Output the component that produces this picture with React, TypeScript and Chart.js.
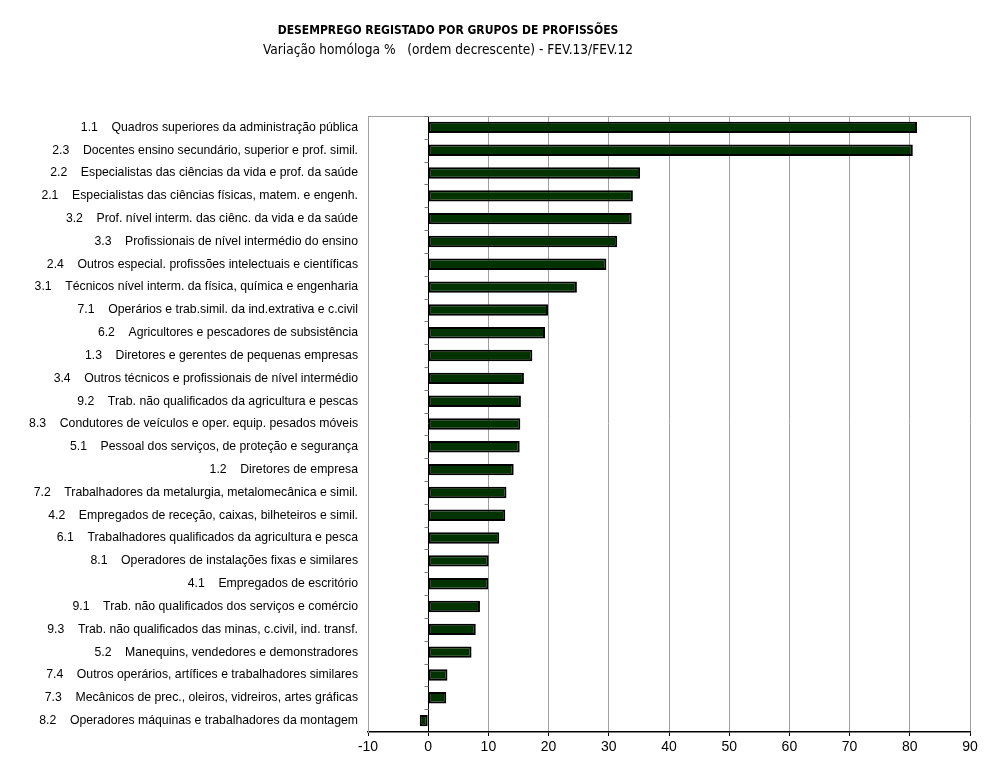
import { useEffect, useRef } from 'react';
import { Chart, registerables } from 'chart.js';

Chart.register(...registerables);

const codes = [
	'1.1', '2.3', '2.2', '2.1', '3.2', '3.3', '2.4', '3.1', '7.1', '6.2', '1.3', '3.4', '9.2', '8.3',
	'5.1', '1.2', '7.2', '4.2', '6.1', '8.1', '4.1', '9.1', '9.3', '5.2', '7.4', '7.3', '8.2',
];

const groups = [
	'Quadros superiores da administração pública',
	'Docentes ensino secundário, superior e prof. simil.',
	'Especialistas das ciências da vida e prof. da saúde',
	'Especialistas das ciências físicas, matem. e engenh.',
	'Prof. nível interm. das ciênc. da vida e da saúde',
	'Profissionais de nível intermédio do ensino',
	'Outros especial. profissões intelectuais e científicas',
	'Técnicos nível interm. da física, química e engenharia',
	'Operários e trab.simil. da ind.extrativa e c.civil',
	'Agricultores e pescadores de subsistência',
	'Diretores e gerentes de pequenas empresas',
	'Outros técnicos e profissionais de nível intermédio',
	'Trab. não qualificados da agricultura e pescas',
	'Condutores de veículos e oper. equip. pesados móveis',
	'Pessoal dos serviços, de proteção e segurança',
	'Diretores de empresa',
	'Trabalhadores da metalurgia, metalomecânica e simil.',
	'Empregados de receção, caixas, bilheteiros e simil.',
	'Trabalhadores qualificados da agricultura e pesca',
	'Operadores de instalações fixas e similares',
	'Empregados de escritório',
	'Trab. não qualificados dos serviços e comércio',
	'Trab. não qualificados das minas, c.civil, ind. transf.',
	'Manequins, vendedores e demonstradores',
	'Outros operários, artífices e trabalhadores similares',
	'Mecânicos de prec., oleiros, vidreiros, artes gráficas',
	'Operadores máquinas e trabalhadores da montagem',
];

// variação homóloga % FEV.13/FEV.12
const variation = [
	81.2, 80.5, 35.2, 34.0, 33.8, 31.4, 29.6, 24.7, 19.9, 19.4, 17.3, 15.9, 15.4, 15.3,
	15.2, 14.2, 13.0, 12.8, 11.8, 10.05, 10.0, 8.6, 7.9, 7.2, 3.2, 3.0, -1.4,
];

const title = 'DESEMPREGO REGISTADO POR GRUPOS DE PROFISSÕES';
const subtitle = 'Variação homóloga %   (ordem decrescente) - FEV.13/FEV.12';

const labels = codes.map((c, i) => `${c}    ${groups[i]}`);

// frame around plot area, ticks on zero line, titles
const decorPlugin = {
	id: 'decor',
	beforeDatasetsDraw(chart: any) {
		const { ctx, chartArea, scales } = chart;
		ctx.save();
		ctx.strokeStyle = '#a0a0a0';
		ctx.lineWidth = 1;
		ctx.beginPath();
		ctx.moveTo(chartArea.left, chartArea.top + 0.5);
		ctx.lineTo(chartArea.right, chartArea.top + 0.5);
		ctx.stroke();
		const x0 = Math.round(scales.x.getPixelForValue(0)) + 0.5;
		const y = scales.y;
		ctx.strokeStyle = '#777';
		for (let i = 0; i <= labels.length; i++) {
			const yy =
				i === 0
					? chartArea.top
					: i === labels.length
					? chartArea.bottom
					: (y.getPixelForValue(i - 1) + y.getPixelForValue(i)) / 2;
			ctx.beginPath();
			ctx.moveTo(x0 - 4, Math.round(yy) + 0.5);
			ctx.lineTo(x0, Math.round(yy) + 0.5);
			ctx.stroke();
		}
		ctx.restore();
	},
	afterDraw(chart: any) {
		const { ctx } = chart;
		ctx.save();
		ctx.fillStyle = '#000';
		ctx.textAlign = 'center';
		ctx.textBaseline = 'middle';
		ctx.font = 'bold 12px "DejaVu Sans Condensed", "DejaVu Sans", sans-serif';
		ctx.fillText(title, 448, 31);
		ctx.font = '13.6px "DejaVu Sans Condensed", "DejaVu Sans", sans-serif';
		ctx.fillText(subtitle, 448, 50);
		ctx.restore();
	},
};

export default function App() {
	const canvasRef = useRef<HTMLCanvasElement>(null);

	useEffect(() => {
		if (!canvasRef.current) return;
		const chart = new Chart(canvasRef.current, {
			type: 'bar',
			data: {
				labels,
				datasets: [
					{
						data: variation,
						backgroundColor: '#003300',
						borderColor: '#000000',
						borderWidth: 2,
						borderSkipped: false,
						categoryPercentage: 1,
						barPercentage: 0.5,
					},
				],
			},
			options: {
				indexAxis: 'y',
				animation: false,
				responsive: true,
				maintainAspectRatio: false,
				layout: { padding: { top: 116, right: 32, left: 0, bottom: 0 } },
				plugins: {
					legend: { display: false },
					title: { display: false },
					tooltip: { enabled: false },
				},
				scales: {
					x: {
						min: -10,
						max: 90,
						ticks: {
							stepSize: 10,
							color: '#000',
							padding: 3,
							font: { family: '"Liberation Sans", Arial, sans-serif', size: 14 },
						},
						grid: {
							color: (c: any) => (c.tick && c.tick.value === 0 ? '#000000' : '#a0a0a0'),
							lineWidth: 1,
							tickLength: 4,
							tickColor: '#000',
						},
						border: { color: '#000', width: 1.5 },
						afterFit: (scale: any) => {
							scale.height = 37;
						},
					},
					y: {
						ticks: {
							color: '#000',
							padding: 10,
							autoSkip: false,
							font: { family: '"Liberation Sans", Arial, sans-serif', size: 12.25 },
						},
						grid: { display: false, drawTicks: false },
						border: { color: '#a0a0a0', width: 1 },
						afterFit: (scale: any) => {
							scale.width = 368;
						},
					},
				},
			},
			plugins: [decorPlugin],
		});
		return () => chart.destroy();
	}, []);

	return (
		<div style={{ position: 'fixed', left: 0, top: 0, width: 1002, height: 769, background: '#fff' }}>
			<canvas ref={canvasRef}></canvas>
		</div>
	);
}
